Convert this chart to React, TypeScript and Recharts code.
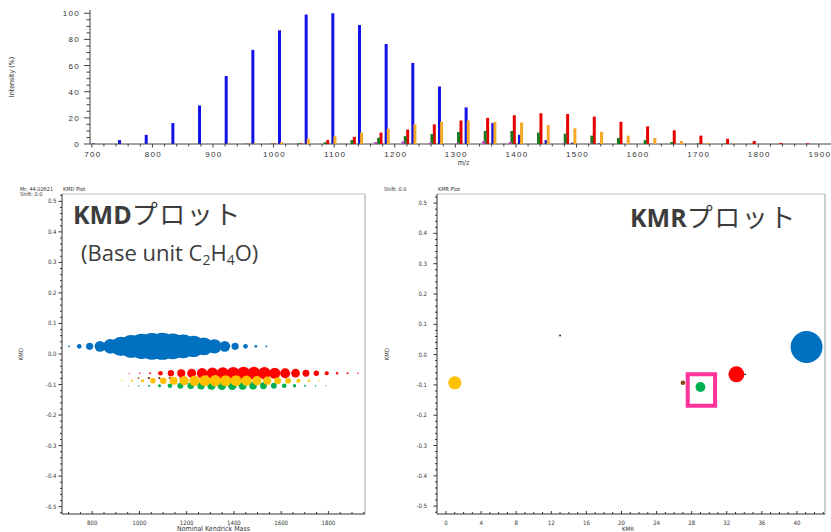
import React from "react"
import {
  Bar,
  ComposedChart,
  ReferenceArea,
  ReferenceLine,
  Scatter,
  ScatterChart,
  XAxis,
  YAxis,
  ZAxis,
  Cell,
} from "recharts"

// ---- mass spectrum: m/z and relative intensity (%) per homologous series ----
const blueMz = [702, 745, 789, 833, 877, 921, 965, 1009, 1053, 1097, 1141, 1185, 1229, 1273, 1317, 1361, 1405, 1449, 1493, 1537]
const blueInt = [0.4, 3, 7, 16, 29.5, 52, 72, 87, 99, 100, 91, 76.5, 62, 44, 28, 16, 7, 3, 1, 0.5]

const redMz = [957, 1001, 1045, 1089, 1133, 1177, 1221, 1265, 1309, 1353, 1397, 1441, 1485, 1529, 1573, 1617, 1661, 1705, 1749, 1793, 1837, 1881, 1925]
const redInt = [0.2, 0.3, 0.5, 3, 5.5, 8.7, 11, 15, 18, 20, 22, 23.5, 23, 21, 17, 13.5, 10.5, 6.4, 4, 2.3, 0.8, 0.5, 0.3]

const orangeMz = [925, 969, 1013, 1057, 1101, 1145, 1189, 1233, 1277, 1321, 1365, 1409, 1453, 1497, 1541, 1585, 1629, 1673, 1717, 1761]
const orangeInt = [0.2, 0.5, 1.3, 4, 6, 8.7, 11.7, 15, 17, 18, 17, 16.5, 14.5, 12, 9.4, 6.4, 4.6, 2.3, 0.8, 0.3]

const greenMz = [953, 997, 1041, 1085, 1129, 1173, 1217, 1261, 1305, 1349, 1393, 1437, 1481, 1525, 1569, 1613, 1657, 1701, 1745, 1789]
const greenInt = [0.2, 0.3, 0.5, 1.3, 3, 4.8, 6, 7.6, 9.2, 10, 10, 8.7, 7.9, 6.4, 4.6, 3, 1.5, 0.5, 0.3, 0.2]

const purpleMz = [1037, 1168, 1213, 1258, 1303, 1346, 1390, 1479, 1524]
const purpleInt = [0.3, 1.5, 2, 1, 0.8, 2.3, 1.5, 0.5, 0.4]

// minor series only visible in the KMD plot
const brownMz = [996, 1040, 1084, 1128, 1172]
const brownInt = [0.4, 0.8, 0.8, 0.6, 0.4]

// Kendrick mass defect of each series (base unit C2H4O)
const kmdBlue = 0.025
const kmdRed = -0.063
const kmdOrange = -0.0875
const kmdGreen = -0.104
const kmdBrown = -0.079

// ---- KMR plot points ----
const kmrValues = [41.1, 33.1, 1.0, 29.0, 27.0, 13.0, 34.1]
const kmrDefects = [0.025, -0.065, -0.093, -0.107, -0.093, 0.063, -0.065]
const kmrAbundance = [100, 25, 17, 9.5, 2, 0.35, 0.3]
const kmrColors = ["#0070c0", "#ff0000", "#ffc000", "#00b050", "#8b4513", "#222222", "#222222"]
// highlighted region [kmr1, kmr2, kmd1, kmd2]
const highlightBox = [27.55, 30.67, -0.169, -0.065]

// ---- tick labels ----
const specXLabels = [700, 800, 900, 1000, 1100, 1200, 1300, 1400, 1500, 1600, 1700, 1800, 1900]
const specYLabels = [0, 20, 40, 60, 80, 100]
const kmdXLabels = [800, 1000, 1200, 1400, 1600, 1800]
const defectLabels = [-0.5, -0.4, -0.3, -0.2, -0.1, 0, 0.1, 0.2, 0.3, 0.4, 0.5]
const kmrXLabels = [0, 4, 8, 12, 16, 20, 24, 28, 32, 36, 40]

const specXDomain = [697, 1920]
const specYDomain = [0, 102.5]
const kmdXDomain = [672, 1955]
const kmdYDomain = [-0.524, 0.524]
const kmrXDomain = [-1.03, 43.2]
const kmrYDomain = [-0.526, 0.53]

const steps = (a: number, b: number, s: number) => {
  const out: number[] = []
  for (let v = a; v <= b + 1e-9; v += s) out.push(Math.round(v * 1000) / 1000)
  return out
}
const specXTicks = steps(700, 1900, 20)
const specYTicks = steps(0, 100, 5)
const kmdXTicks = steps(700, 1950, 50)
const defectTicks = steps(-0.52, 0.52, 0.02)
const kmrXTicks = steps(0, 43, 1)

const isLabel = (list: number[], v: number) => list.some((l) => Math.abs(l - v) < 1e-6)

const sans = "'Liberation Sans', Arial, sans-serif"
const narrow = "'Liberation Sans Narrow', 'DejaVu Sans Condensed', 'Liberation Sans', sans-serif"
const latin = "'Open Sans', 'Noto Sans', sans-serif"
const jp = "'Noto Sans CJK JP', 'Noto Sans', sans-serif"
const axisColor = "#444"

const specSeries = [
  { mz: blueMz, intensity: blueInt, color: "#1212e6" },
  { mz: redMz, intensity: redInt, color: "#e60000" },
  { mz: orangeMz, intensity: orangeInt, color: "#f7aa2a" },
  { mz: greenMz, intensity: greenInt, color: "#1f7a1f" },
  { mz: purpleMz, intensity: purpleInt, color: "#c040c0" },
]

const SpecXTick = (p: any) => {
  const v = p.payload.value
  const major = isLabel(specXLabels, v)
  return (
    <g>
      <line x1={p.x} x2={p.x} y1={p.y} y2={p.y + (major ? 3.5 : 2.5)} stroke={axisColor} />
      {major && (
        <text x={p.x + 1} y={p.y + 13} textAnchor="middle" fontSize={8} letterSpacing={1.3} fill="#333" fontFamily={sans}>
          {v}
        </text>
      )}
    </g>
  )
}

const SpecYTick = (p: any) => {
  const v = p.payload.value
  const major = isLabel(specYLabels, v)
  return (
    <g>
      <line x1={p.x} x2={p.x - (major ? 6 : 3.5)} y1={p.y} y2={p.y} stroke={axisColor} />
      {major && (
        <text x={p.x - 10} y={p.y + 3} textAnchor="end" fontSize={8} letterSpacing={1.3} fill="#333" fontFamily={sans}>
          {v}
        </text>
      )}
    </g>
  )
}

const makeXTick = (labels: number[]) => (p: any) => {
  const v = p.payload.value
  const major = isLabel(labels, v)
  return (
    <g>
      <line x1={p.x} x2={p.x} y1={p.y} y2={p.y - (major ? 3 : 2)} stroke="#333" />
      {major && (
        <text x={p.x} y={p.y + 11} textAnchor="middle" fontSize={6} fill="#333" fontFamily={narrow}>
          {v}
        </text>
      )}
    </g>
  )
}

const makeYTick = (gap: number) => (p: any) => {
  const v = p.payload.value
  const major = isLabel(defectLabels, v)
  return (
    <g>
      <line x1={p.x} x2={p.x - (major ? 3.5 : 2)} y1={p.y} y2={p.y} stroke="#333" />
      {major && (
        <text x={p.x - gap} y={p.y + 2} textAnchor="end" fontSize={6} fill="#333" fontFamily={narrow}>
          {v.toFixed(1)}
        </text>
      )}
    </g>
  )
}

const rotatedLabel = (text: string, dx: number, size: number) => (p: any) => {
  const vb = p.viewBox
  return (
    <text
      transform={`translate(${vb.x + dx},${vb.y + vb.height / 2}) rotate(-90)`}
      textAnchor="middle"
      fontSize={size}
      fill="#333"
      fontFamily={narrow}
    >
      {text}
    </text>
  )
}

const bottomLabel = (text: string, dy: number, size: number, dx = 0) => (p: any) => {
  const vb = p.viewBox
  return (
    <text x={vb.x + vb.width / 2 + dx} y={vb.y + dy} textAnchor="middle" fontSize={size} fill="#333" fontFamily={narrow}>
      {text}
    </text>
  )
}

function SpectrumLayer({ s, axes }: { s: (typeof specSeries)[number]; axes: boolean }) {
  const data = s.mz.map((mz, i) => ({ mz, v: s.intensity[i] }))
  return (
    <div style={{ position: "absolute", left: 0, top: 0 }}>
      <ComposedChart width={831} height={170} data={data} margin={{ top: 10, right: 0, bottom: 0, left: 0 }}>
        <XAxis
          type="number"
          dataKey="mz"
          domain={specXDomain}
          allowDataOverflow
          ticks={specXTicks}
          interval={0}
          height={26}
          tickSize={0}
          tickMargin={0}
          tickLine={false}
          tick={axes ? SpecXTick : false}
          axisLine={axes ? { stroke: axisColor } : false}
          label={axes ? { content: bottomLabel("m/z", 21, 7, 3) } : undefined}
        />
        <YAxis
          type="number"
          domain={specYDomain}
          ticks={specYTicks}
          interval={0}
          width={90}
          tickSize={0}
          tickMargin={0}
          tickLine={false}
          tick={axes ? SpecYTick : false}
          axisLine={axes ? { stroke: axisColor } : false}
          label={axes ? { content: rotatedLabel("Intensity (%)", 14, 7) } : undefined}
        />
        <Bar dataKey="v" fill={s.color} barSize={3} isAnimationActive={false} />
      </ComposedChart>
    </div>
  )
}

const toPoints = (mz: number[], intensity: number[], kmd: number) =>
  mz.map((m, i) => ({ x: m, y: kmd, z: intensity[i] }))

function KmdPlot() {
  return (
    <ScatterChart width={380} height={357} margin={{ top: 19, right: 15, bottom: 0, left: 0 }}>
      <XAxis
        type="number"
        dataKey="x"
        domain={kmdXDomain}
        allowDataOverflow
        ticks={kmdXTicks}
        interval={0}
        height={18}
        tickSize={0}
        tickMargin={0}
        tickLine={false}
        tick={makeXTick(kmdXLabels)}
        axisLine={{ stroke: "#333" }}
        label={{ content: bottomLabel("Nominal Kendrick Mass", 17, 7) }}
      />
      <YAxis
        type="number"
        dataKey="y"
        domain={kmdYDomain}
        allowDataOverflow
        ticks={defectTicks}
        interval={0}
        width={62}
        tickSize={0}
        tickMargin={0}
        tickLine={false}
        tick={makeYTick(5.5)}
        axisLine={{ stroke: "#333" }}
        label={{ content: rotatedLabel("KMD", 23, 6) }}
      />
      <ZAxis type="number" dataKey="z" range={[0, 572]} domain={[0, 100]} />
      <ReferenceLine y={kmdYDomain[1]} stroke="#bdbdbd" />
      <ReferenceLine x={kmdXDomain[1]} stroke="#cfcfcf" strokeWidth={2} />
      <Scatter data={toPoints(blueMz, blueInt, kmdBlue)} fill="#0070c0" isAnimationActive={false} />
      <Scatter data={toPoints(redMz, redInt, kmdRed)} fill="#ff0000" isAnimationActive={false} />
      <Scatter data={toPoints(greenMz, greenInt, kmdGreen)} fill="#00b050" isAnimationActive={false} />
      <Scatter data={toPoints(brownMz, brownInt, kmdBrown)} fill="#8b4513" isAnimationActive={false} />
      <Scatter data={toPoints(orangeMz, orangeInt, kmdOrange)} fill="#ffc000" isAnimationActive={false} />
    </ScatterChart>
  )
}

function KmrPlot() {
  const data = kmrValues.map((x, i) => ({ x, y: kmrDefects[i], z: kmrAbundance[i] }))
  return (
    <ScatterChart width={451} height={357} margin={{ top: 19, right: 6, bottom: 0, left: 0 }}>
      <XAxis
        type="number"
        dataKey="x"
        domain={kmrXDomain}
        allowDataOverflow
        ticks={kmrXTicks}
        interval={0}
        height={18}
        tickSize={0}
        tickMargin={0}
        tickLine={false}
        tick={makeXTick(kmrXLabels)}
        axisLine={{ stroke: "#333" }}
        label={{ content: bottomLabel("KMR", 17, 6, -3) }}
      />
      <YAxis
        type="number"
        dataKey="y"
        domain={kmrYDomain}
        allowDataOverflow
        ticks={defectTicks}
        interval={0}
        width={57}
        tickSize={0}
        tickMargin={0}
        tickLine={false}
        tick={makeYTick(10)}
        axisLine={{ stroke: "#333" }}
        label={{ content: rotatedLabel("KMD", 8.5, 6) }}
      />
      <ZAxis type="number" dataKey="z" range={[0, 800]} domain={[0, 100]} />
      <ReferenceLine y={kmrYDomain[1]} stroke="#bdbdbd" />
      <ReferenceLine x={kmrXDomain[1]} stroke="#cfcfcf" strokeWidth={2} />
      <ReferenceArea
        x1={highlightBox[0]}
        x2={highlightBox[1]}
        y1={highlightBox[2]}
        y2={highlightBox[3]}
        fill="none"
        fillOpacity={0}
        stroke="#ff3399"
        strokeWidth={4}
      />
      <Scatter data={data} isAnimationActive={false}>
        {data.map((_, i) => (
          <Cell key={i} fill={kmrColors[i]} />
        ))}
      </Scatter>
    </ScatterChart>
  )
}

export default function App() {
  return (
    <div style={{ position: "absolute", left: 0, top: 0, width: 831, height: 532, background: "#fff", overflow: "hidden" }}>
      <div style={{ position: "absolute", left: 0, top: 0, width: 831, height: 170 }}>
        {specSeries.map((s, i) => (
          <SpectrumLayer key={i} s={s} axes={i === 0} />
        ))}
      </div>
      <div style={{ position: "absolute", left: 0, top: 175 }}>
        <KmdPlot />
      </div>
      <div style={{ position: "absolute", left: 380, top: 175 }}>
        <KmrPlot />
      </div>
      <svg width={831} height={532} style={{ position: "absolute", left: 0, top: 0, pointerEvents: "none" }}>
        <g fontFamily={narrow} fontSize={5.5} fill="#333">
          <text x={20} y={190.5}>Mr: 44.02621</text>
          <text x={20} y={195.5}>Shift: 0.0</text>
          <text x={63} y={190.5}>KMD Plot</text>
          <text x={384} y={191}>Shift: 0.0</text>
          <text x={438} y={191}>KMR Plot</text>
        </g>
        <g fill="#3c3c3c">
          <text x={73} y={224} fontSize={25}>
            <tspan fontFamily={latin} fontWeight="bold">KMD</tspan>
            <tspan fontFamily={jp} fontSize={26} letterSpacing={1.5}>プロット</tspan>
          </text>
          <text x={81} y={261} fontSize={22} fontFamily={latin}>
            (Base unit C<tspan fontSize={14} dy={4}>2</tspan>
            <tspan dy={-4}>H</tspan>
            <tspan fontSize={14} dy={4}>4</tspan>
            <tspan dy={-4}>O)</tspan>
          </text>
          <text x={630} y={227} fontSize={25}>
            <tspan fontFamily={latin} fontWeight="bold">KMR</tspan>
            <tspan fontFamily={jp} fontSize={26} letterSpacing={1.5}>プロット</tspan>
          </text>
        </g>
      </svg>
    </div>
  )
}
